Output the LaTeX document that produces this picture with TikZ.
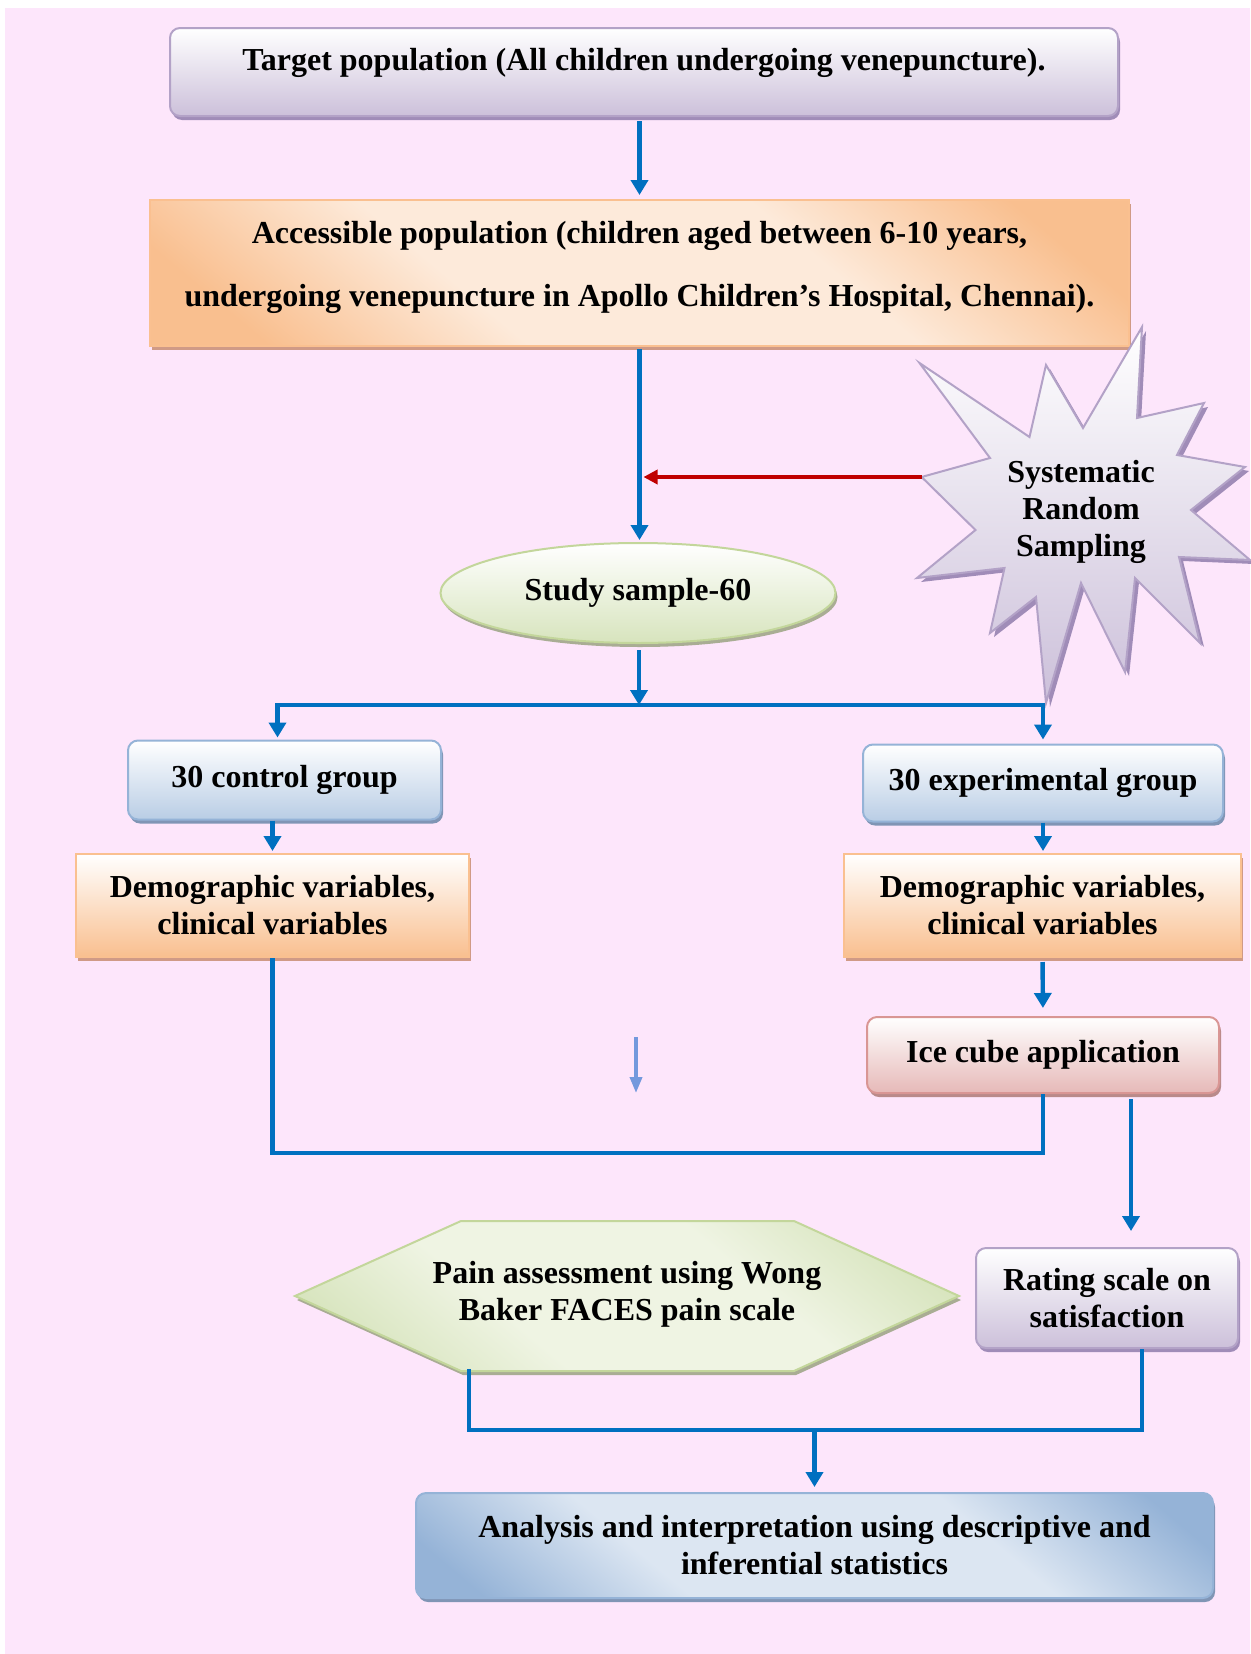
\documentclass[tikz,border=0pt]{standalone}
\usepackage{fontspec}
\setmainfont{Liberation Serif}
\usepackage{tikz}
\usetikzlibrary{arrows.meta,shadows,shapes.geometric}

\definecolor{bgpink}{HTML}{FDE6FB}
\definecolor{arrblue}{HTML}{0070C0}
\definecolor{arrred}{HTML}{C00000}
\definecolor{strayblue}{HTML}{7399DD}
\definecolor{lilac}{HTML}{CCC0DA}
\definecolor{lilacline}{HTML}{B3A2C7}
\definecolor{lilacshade}{HTML}{A08CB8}
\definecolor{peach}{HTML}{F9BF8F}
\definecolor{peachlight}{HTML}{FDEADA}
\definecolor{peachline}{HTML}{FAC090}
\definecolor{peachshade}{HTML}{D09A86}
\definecolor{sage}{HTML}{D7E4BD}
\definecolor{sagelight}{HTML}{EFF4E3}
\definecolor{sageline}{HTML}{C3D69B}
\definecolor{sageshade}{HTML}{A9AD94}
\definecolor{skyblue}{HTML}{B9CDE5}
\definecolor{skyline}{HTML}{95B3D7}
\definecolor{skyshade}{HTML}{8095B5}
\definecolor{paleblue}{HTML}{DCE6F2}
\definecolor{rose}{HTML}{E6B9B8}
\definecolor{roseline}{HTML}{D99694}
\definecolor{roseshade}{HTML}{B98A8A}

\pgfdeclareverticalshading{peachdiag}{100bp}{color(0bp)=(peach); color(22bp)=(peach);
  color(38bp)=(peachlight); color(62bp)=(peachlight); color(78bp)=(peach); color(100bp)=(peach)}
\pgfdeclareverticalshading{skydiag}{100bp}{color(0bp)=(skyline); color(20bp)=(skyline);
  color(36bp)=(paleblue); color(64bp)=(paleblue); color(80bp)=(skyline); color(100bp)=(skyline)}
\pgfdeclareverticalshading{sagediag}{100bp}{color(0bp)=(sage); color(22bp)=(sage);
  color(38bp)=(sagelight); color(62bp)=(sagelight); color(78bp)=(sage); color(100bp)=(sage)}

\tikzset{
  txt/.style={font=\fontsize{16}{18.5}\selectfont\bfseries, align=center, inner sep=2pt},
  lilacbox/.style={txt, rounded corners=5pt, draw=lilacline, line width=1pt,
    top color=white, bottom color=lilac,
    drop shadow={shadow xshift=1pt, shadow yshift=-2pt, fill=lilacshade, opacity=1}},
  peachbox/.style={txt, draw=peachline, line width=1pt,
    top color=white, bottom color=peach,
    drop shadow={shadow xshift=1pt, shadow yshift=-2pt, fill=peachshade, opacity=1}},
  peachwide/.style={peachbox, shading=peachdiag, shading angle=-40},
  skybox/.style={txt, rounded corners=5pt, draw=skyline, line width=1pt,
    top color=white, bottom color=skyblue,
    drop shadow={shadow xshift=1pt, shadow yshift=-2pt, fill=skyshade, opacity=1}},
  skywide/.style={skybox, shading=skydiag, shading angle=-40},
  rosebox/.style={txt, rounded corners=5pt, draw=roseline, line width=1pt,
    top color=white, bottom color=rose,
    drop shadow={shadow xshift=1pt, shadow yshift=-2pt, fill=roseshade, opacity=1}},
  sagebox/.style={txt, draw=sageline, line width=1pt,
    top color=white, bottom color=sage,
    drop shadow={shadow xshift=1pt, shadow yshift=-2pt, fill=sageshade, opacity=1}},
  hexfill/.style={draw=sageline, line width=1pt, shading=sagediag, shading angle=-40,
    drop shadow={shadow xshift=1pt, shadow yshift=-2pt, fill=sageshade, opacity=1}},
  starfill/.style={draw=lilacline, line width=1pt, top color=white, bottom color=lilac,
    drop shadow={shadow xshift=2pt, shadow yshift=-2pt, fill=lilacshade, opacity=1}},
  link/.style={draw=arrblue, line width=2.2pt},
  arr/.style={link, -{Triangle[width=8.5pt,length=7.5pt]}},
  redarr/.style={draw=arrred, line width=1.7pt, -{Triangle[width=7pt,length=7pt]}},
  strayarr/.style={draw=strayblue, line width=1.8pt, -{Triangle[width=6pt,length=8pt]}}
}

\begin{document}
\begin{tikzpicture}[x=0.5pt,y=-0.5pt]
    \useasboundingbox (0,0) rectangle (1250,1654);
    \fill[bgpink] (5,8) rectangle (1250,1654);

    \node[lilacbox, minimum width=474pt, minimum height=44pt, text height=11pt, text depth=13pt] (target) at (644,72)
        {Target population (All children undergoing venepuncture).};
    \node[peachwide, minimum width=489.5pt, minimum height=73pt,
        label={[txt, yshift=3pt]center:{Accessible population (children aged between 6-10 years,\\[13pt]
         undergoing venepuncture in Apollo Children’s Hospital, Chennai).}}] (access) at (639.5,273) {};

    \filldraw[starfill] (921.6,477) -- (990,458) -- (919.5,363) -- (1029.5,437) -- (1046,365)
        -- (1083,428) -- (1142,327) -- (1137,418) -- (1204,403) -- (1177,455) -- (1245,467)
        -- (1191,510) -- (1250,560) -- (1179,557) -- (1200,643) -- (1135,578) -- (1125,672)
        -- (1081,583) -- (1046,703) -- (1036,597) -- (990,633) -- (1004.5,568) -- (917,578)
        -- (975.5,530) -- cycle;
    \node[txt] (sampling) at (1081,512) {Systematic\\Random\\Sampling};
    \coordinate (startip) at (921.6,477);

    \node[sagebox, ellipse, minimum width=197.5pt, minimum height=50pt] (sample) at (638,593) {Study sample-60};

    \node[skybox, minimum width=156.5pt, minimum height=39.5pt] (control) at (284.5,780) {30 control group};
    \node[skybox, minimum width=180pt, minimum height=38.5pt] (exper) at (1043,783) {30 experimental group};

    \node[peachbox, minimum width=196.5pt, minimum height=51.5pt] (demoL) at (272.5,905.5)
        {Demographic variables,\\clinical variables};
    \node[peachbox, minimum width=198.5pt, minimum height=51.5pt] (demoR) at (1042.5,905.5)
        {Demographic variables,\\clinical variables};

    \node[rosebox, minimum width=176pt, minimum height=38pt] (ice) at (1043,1055) {Ice cube application};

    \filldraw[hexfill] (295,1296) -- (461,1221) -- (794,1221) -- (959,1296) -- (794,1371) -- (461,1371) -- cycle;
    \node[txt, minimum width=332pt, minimum height=75pt] (pain) at (627,1294)
        {Pain assessment using Wong\\Baker FACES pain scale};

    \node[lilacbox, minimum width=131pt, minimum height=50pt] (rating) at (1107,1298)
        {Rating scale on\\satisfaction};

    \node[skywide, minimum width=398.5pt, minimum height=52.5pt] (analysis) at (814.5,1545.5)
        {Analysis and interpretation using descriptive and\\inferential statistics};

    \coordinate (split) at (639,705);
    \coordinate (joinA) at (0,1153);
    \coordinate (joinB) at (0,1430);
    \coordinate (stray1) at (636,1037);
    \coordinate (stray2) at (636,1093);
    \coordinate (rateIn) at (1131,1099);

    \draw[arr, shorten <=2pt, shorten >=2pt] (access.north |- target.south) -- (access.north);
    \draw[arr, shorten <=1pt, shorten >=1pt] (access.south) -- (access.south |- sample.north);
    \draw[redarr] (startip) -- ([xshift=2pt]startip -| access.south);
    \draw[arr, shorten <=3pt] (sample.south -| split) -- (split);
    \draw[arr, shorten >=1pt] (split) -| ([xshift=-3.5pt]control.north);
    \draw[arr, shorten >=2pt] (split) -| (exper.north);
    \draw[arr, shorten >=1pt] (demoL.north |- control.south) -- (demoL.north);
    \draw[arr, shorten >=1pt] (exper.south) -- (exper.south |- demoR.north);
    \draw[arr, shorten <=2pt, shorten >=4pt] (demoR.south) -- (ice.north);
    \draw[strayarr] (stray1) -- (stray2);
    \draw[link] (demoL.south) |- (ice.south |- joinA) -- (ice.south);
    \draw[arr, shorten >=8pt] (rateIn) -- (rateIn |- rating.north);
    \draw[link] ([xshift=-79pt]pain.south) |- ([xshift=17.5pt]rating.south |- joinB) -- ([xshift=17.5pt]rating.south);
    \draw[arr, shorten >=2.5pt] (analysis.north |- joinB) -- (analysis.north);
\end{tikzpicture}
\end{document}
